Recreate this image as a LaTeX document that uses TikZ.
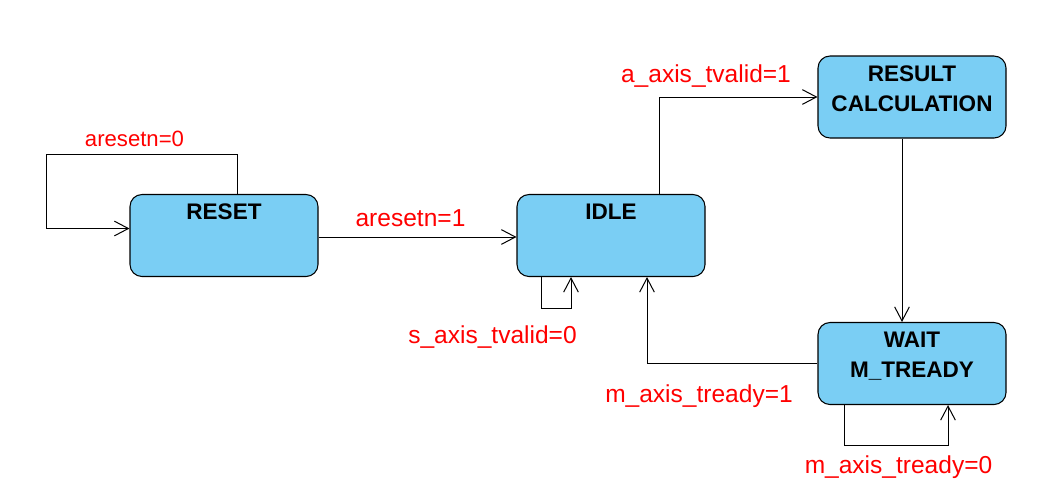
\documentclass[tikz,border=0pt]{standalone}
\usepackage{fontspec}
\setmainfont{Liberation Sans}
\usepackage{tikz}
\usetikzlibrary{calc,arrows.meta}
\definecolor{statefill}{RGB}{122,206,244}
\def\statenode{\node[rectangle,rounded corners=9pt,draw=black,line width=0.8pt,fill=statefill,minimum width=141pt,minimum height=61.5pt,inner sep=0pt]}
\def\statename{\node[anchor=north,inner sep=0pt,align=center,font=\fontsize{16.9}{22.5}\selectfont\bfseries]}
\def\condnode{\node[anchor=base,inner sep=0pt,text=red,font=\fontsize{18.4}{22}\selectfont]}
\def\drawtrans{\draw[line width=0.75pt,-{Straight Barb[length=10.5pt,width=11pt]}]}

\begin{document}
\begin{tikzpicture}[x=0.75pt,y=-0.75pt]
\useasboundingbox (0,0) rectangle (1042,487);
\statenode (reset) at (224,235.5) {};
\statenode (idle) at (611,235.5) {};
\statenode (result) at (912,97) {};
\statenode (wait) at (912,363.5) {};
\statename (resetname) at ($(reset.north)+(0,10)$) {RESET};
\statename (idlename) at ($(idle.north)+(0,10)$) {IDLE};
\statename (resultname) at ($(result.north)+(0,10)$) {RESULT\\CALCULATION};
\statename (waitname) at ($(wait.north)+(0,10)$) {WAIT\\M\_TREADY};
\coordinate (resetbend) at (46,154);
\drawtrans ($(reset.north)+(13,0)$) |- (resetbend) |- ($(reset.west)+(0,-7)$);
\drawtrans ($(reset.east)+(0,1.5)$) -- ($(idle.west)+(0,1.5)$);
\drawtrans ($(idle.south)+(-70,0)$) -- ++(0,31) -| ($(idle.south)+(-40,0)$);
\drawtrans ($(idle.north)+(48,0)$) |- (result.west);
\drawtrans ($(result.south)+(-10,0)$) -- ($(wait.north)+(-10,0)$);
\drawtrans (wait.west) -| ($(idle.south)+(36,0)$);
\drawtrans ($(wait.south)+(-68,0)$) -- ++(0,40) -| ($(wait.south)+(36,0)$);
\condnode[font=\fontsize{16.6}{20}\selectfont] (resetlow) at (134.5,146) {aresetn=0};
\condnode (resethigh) at (410.5,226.5) {aresetn=1};
\condnode (avalid) at (706,82) {a\_axis\_tvalid=1};
\condnode (snotvalid) at (492.5,343) {s\_axis\_tvalid=0};
\condnode (mready) at (699,402) {m\_axis\_tready=1};
\condnode (mnotready) at (898.5,473) {m\_axis\_tready=0};
\end{tikzpicture}
\end{document}
